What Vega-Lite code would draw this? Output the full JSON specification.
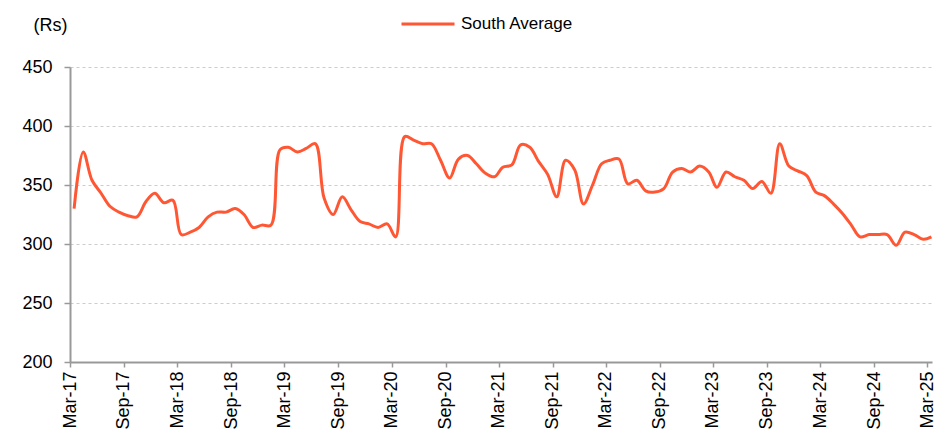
{
  "$schema": "https://vega.github.io/schema/vega-lite/v6.json",
  "width": 862,
  "height": 295,
  "autosize": {"type": "none"},
  "padding": {"left": 70, "top": 67, "right": 18, "bottom": 71},
  "background": "white",
  "config": {
    "view": {"stroke": null},
    "font": "Liberation Sans",
    "text": {"font": "Liberation Sans"}
  },
  "data": {
    "values": [
      {"date": "2017-03-15", "series": "South Average", "price": 330},
      {"date": "2017-04-15", "series": "South Average", "price": 378},
      {"date": "2017-05-15", "series": "South Average", "price": 354},
      {"date": "2017-06-15", "series": "South Average", "price": 343},
      {"date": "2017-07-15", "series": "South Average", "price": 332},
      {"date": "2017-08-15", "series": "South Average", "price": 327},
      {"date": "2017-09-15", "series": "South Average", "price": 324},
      {"date": "2017-10-15", "series": "South Average", "price": 323},
      {"date": "2017-11-15", "series": "South Average", "price": 336},
      {"date": "2017-12-15", "series": "South Average", "price": 343},
      {"date": "2018-01-15", "series": "South Average", "price": 335},
      {"date": "2018-02-15", "series": "South Average", "price": 337},
      {"date": "2018-03-15", "series": "South Average", "price": 308},
      {"date": "2018-04-15", "series": "South Average", "price": 310},
      {"date": "2018-05-15", "series": "South Average", "price": 314},
      {"date": "2018-06-15", "series": "South Average", "price": 323},
      {"date": "2018-07-15", "series": "South Average", "price": 327},
      {"date": "2018-08-15", "series": "South Average", "price": 327},
      {"date": "2018-09-15", "series": "South Average", "price": 330},
      {"date": "2018-10-15", "series": "South Average", "price": 325},
      {"date": "2018-11-15", "series": "South Average", "price": 314},
      {"date": "2018-12-15", "series": "South Average", "price": 316},
      {"date": "2019-01-15", "series": "South Average", "price": 316},
      {"date": "2019-02-15", "series": "South Average", "price": 380},
      {"date": "2019-03-15", "series": "South Average", "price": 382},
      {"date": "2019-04-15", "series": "South Average", "price": 378},
      {"date": "2019-05-15", "series": "South Average", "price": 381},
      {"date": "2019-06-15", "series": "South Average", "price": 385},
      {"date": "2019-07-15", "series": "South Average", "price": 339},
      {"date": "2019-08-15", "series": "South Average", "price": 325},
      {"date": "2019-09-15", "series": "South Average", "price": 340},
      {"date": "2019-10-15", "series": "South Average", "price": 329},
      {"date": "2019-11-15", "series": "South Average", "price": 319},
      {"date": "2019-12-15", "series": "South Average", "price": 317},
      {"date": "2020-01-15", "series": "South Average", "price": 314},
      {"date": "2020-02-15", "series": "South Average", "price": 317},
      {"date": "2020-03-15", "series": "South Average", "price": 306},
      {"date": "2020-04-15", "series": "South Average", "price": 391},
      {"date": "2020-05-15", "series": "South Average", "price": 388},
      {"date": "2020-06-15", "series": "South Average", "price": 385},
      {"date": "2020-07-15", "series": "South Average", "price": 385},
      {"date": "2020-08-15", "series": "South Average", "price": 371},
      {"date": "2020-09-15", "series": "South Average", "price": 356},
      {"date": "2020-10-15", "series": "South Average", "price": 372},
      {"date": "2020-11-15", "series": "South Average", "price": 375},
      {"date": "2020-12-15", "series": "South Average", "price": 368},
      {"date": "2021-01-15", "series": "South Average", "price": 360},
      {"date": "2021-02-15", "series": "South Average", "price": 357},
      {"date": "2021-03-15", "series": "South Average", "price": 365},
      {"date": "2021-04-15", "series": "South Average", "price": 367},
      {"date": "2021-05-15", "series": "South Average", "price": 384},
      {"date": "2021-06-15", "series": "South Average", "price": 382},
      {"date": "2021-07-15", "series": "South Average", "price": 370},
      {"date": "2021-08-15", "series": "South Average", "price": 359},
      {"date": "2021-09-15", "series": "South Average", "price": 340},
      {"date": "2021-10-15", "series": "South Average", "price": 371},
      {"date": "2021-11-15", "series": "South Average", "price": 363},
      {"date": "2021-12-15", "series": "South Average", "price": 334},
      {"date": "2022-01-15", "series": "South Average", "price": 350},
      {"date": "2022-02-15", "series": "South Average", "price": 368},
      {"date": "2022-03-15", "series": "South Average", "price": 371},
      {"date": "2022-04-15", "series": "South Average", "price": 372},
      {"date": "2022-05-15", "series": "South Average", "price": 351},
      {"date": "2022-06-15", "series": "South Average", "price": 354},
      {"date": "2022-07-15", "series": "South Average", "price": 345},
      {"date": "2022-08-15", "series": "South Average", "price": 344},
      {"date": "2022-09-15", "series": "South Average", "price": 347},
      {"date": "2022-10-15", "series": "South Average", "price": 361},
      {"date": "2022-11-15", "series": "South Average", "price": 364},
      {"date": "2022-12-15", "series": "South Average", "price": 361},
      {"date": "2023-01-15", "series": "South Average", "price": 366},
      {"date": "2023-02-15", "series": "South Average", "price": 361},
      {"date": "2023-03-15", "series": "South Average", "price": 348},
      {"date": "2023-04-15", "series": "South Average", "price": 361},
      {"date": "2023-05-15", "series": "South Average", "price": 357},
      {"date": "2023-06-15", "series": "South Average", "price": 354},
      {"date": "2023-07-15", "series": "South Average", "price": 347},
      {"date": "2023-08-15", "series": "South Average", "price": 353},
      {"date": "2023-09-15", "series": "South Average", "price": 343},
      {"date": "2023-10-15", "series": "South Average", "price": 385},
      {"date": "2023-11-15", "series": "South Average", "price": 366},
      {"date": "2023-12-15", "series": "South Average", "price": 362},
      {"date": "2024-01-15", "series": "South Average", "price": 358},
      {"date": "2024-02-15", "series": "South Average", "price": 344},
      {"date": "2024-03-15", "series": "South Average", "price": 341},
      {"date": "2024-04-15", "series": "South Average", "price": 334},
      {"date": "2024-05-15", "series": "South Average", "price": 326},
      {"date": "2024-06-15", "series": "South Average", "price": 316},
      {"date": "2024-07-15", "series": "South Average", "price": 306},
      {"date": "2024-08-15", "series": "South Average", "price": 308},
      {"date": "2024-09-15", "series": "South Average", "price": 308},
      {"date": "2024-10-15", "series": "South Average", "price": 308},
      {"date": "2024-11-15", "series": "South Average", "price": 299},
      {"date": "2024-12-15", "series": "South Average", "price": 310},
      {"date": "2025-01-15", "series": "South Average", "price": 308},
      {"date": "2025-02-15", "series": "South Average", "price": 304},
      {"date": "2025-03-15", "series": "South Average", "price": 306}
    ]
  },
  "mark": {"type": "line", "strokeWidth": 3, "interpolate": "catmull-rom"},
  "encoding": {
    "x": {
      "field": "date",
      "type": "temporal",
      "scale": {
        "type": "utc",
        "domain": [
          {"year": 2017, "month": 3, "date": 1, "utc": true},
          {"year": 2025, "month": 3, "date": 17, "utc": true}
        ]
      },
      "axis": {
        "title": null,
        "values": [
          {"year": 2017, "month": 3, "date": 1, "utc": true},
          {"year": 2017, "month": 9, "date": 1, "utc": true},
          {"year": 2018, "month": 3, "date": 1, "utc": true},
          {"year": 2018, "month": 9, "date": 1, "utc": true},
          {"year": 2019, "month": 3, "date": 1, "utc": true},
          {"year": 2019, "month": 9, "date": 1, "utc": true},
          {"year": 2020, "month": 3, "date": 1, "utc": true},
          {"year": 2020, "month": 9, "date": 1, "utc": true},
          {"year": 2021, "month": 3, "date": 1, "utc": true},
          {"year": 2021, "month": 9, "date": 1, "utc": true},
          {"year": 2022, "month": 3, "date": 1, "utc": true},
          {"year": 2022, "month": 9, "date": 1, "utc": true},
          {"year": 2023, "month": 3, "date": 1, "utc": true},
          {"year": 2023, "month": 9, "date": 1, "utc": true},
          {"year": 2024, "month": 3, "date": 1, "utc": true},
          {"year": 2024, "month": 9, "date": 1, "utc": true},
          {"year": 2025, "month": 3, "date": 1, "utc": true}
        ],
        "labelExpr": "utcFormat(datum.value, '%b-%y')",
        "labelAngle": -90,
        "labelAlign": "right",
        "labelBaseline": "middle",
        "labelFontSize": 18,
        "labelColor": "#000000",
        "labelPadding": 4,
        "labelOverlap": false,
        "labelFlush": false,
        "tickSize": 5,
        "tickColor": "#999999",
        "tickWidth": 1.5,
        "domainColor": "#999999",
        "domainWidth": 2,
        "grid": false
      }
    },
    "y": {
      "field": "price",
      "type": "quantitative",
      "scale": {"domain": [200, 450], "nice": false, "zero": false},
      "axis": {
        "title": "(Rs)",
        "titleAngle": 0,
        "titleX": -20,
        "titleY": -42,
        "titleAlign": "center",
        "titleBaseline": "middle",
        "titleFontSize": 18,
        "titleFontWeight": "normal",
        "titleColor": "#000000",
        "values": [200, 250, 300, 350, 400, 450],
        "labelFontSize": 18,
        "labelColor": "#000000",
        "labelPadding": 12,
        "tickSize": 6,
        "tickColor": "#999999",
        "tickWidth": 1.5,
        "domainColor": "#999999",
        "domainWidth": 2,
        "grid": true,
        "gridColor": "#cccccc",
        "gridDash": [3, 3],
        "gridWidth": 1
      }
    },
    "color": {
      "field": "series",
      "type": "nominal",
      "scale": {"range": ["#FF5733"]},
      "legend": {
        "title": null,
        "orient": "none",
        "legendX": 330,
        "legendY": -71,
        "padding": 0,
        "symbolType": "stroke",
        "symbolSize": 2809,
        "symbolStrokeWidth": 3,
        "labelFontSize": 17,
        "labelColor": "#000000",
        "labelOffset": 5
      }
    }
  }
}
